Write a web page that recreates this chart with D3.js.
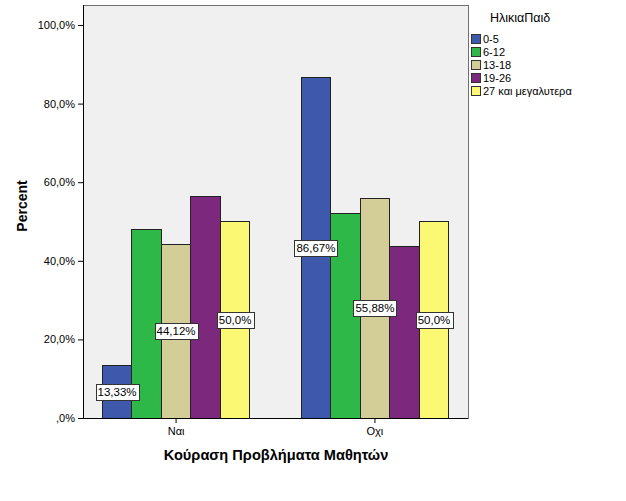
<!DOCTYPE html>
<html><head><meta charset="utf-8">
<script src="https://cdn.jsdelivr.net/npm/d3@7"></script>
<style>body{margin:0;background:#fff}svg{display:block}text{font-family:"Liberation Sans",Arial,sans-serif}</style>
</head><body>
<svg id="c" width="626" height="501"></svg>
<script>
const categories = ["Ναι", "Οχι"];
const series = ["0-5", "6-12", "13-18", "19-26", "27 και μεγαλυτερα"];
const values = {
  "0-5": [13.33, 86.67],
  "6-12": [47.92, 52.08],
  "13-18": [44.12, 55.88],
  "19-26": [56.25, 43.75],
  "27 και μεγαλυτερα": [50.0, 50.0]
};
const labelled = {"0-5": ["13,33%", "86,67%"], "13-18": ["44,12%", "55,88%"], "27 και μεγαλυτερα": ["50,0%", "50,0%"]};
const yTicks = [0, 20, 40, 60, 80, 100];
const yTickLabels = [",0%", "20,0%", "40,0%", "60,0%", "80,0%", "100,0%"];
const colors = ["#3E58AC", "#2EB848", "#D3CE97", "#7C287D", "#FBF873"];

const svg = d3.select("#c");
const L = 83, R = 468, T = 5, B = 418;
const y = d3.scaleLinear().domain([0, 100]).range([B, 25]);
const x0 = d3.scaleBand().domain(categories).range([L, R]).paddingInner(0.258).paddingOuter(0.097);
const x1 = d3.scaleBand().domain(series).range([0, x0.bandwidth()]);
const color = d3.scaleOrdinal().domain(series).range(colors);

svg.append("rect").attr("x", L).attr("y", T).attr("width", R - L).attr("height", B - T)
  .attr("fill", "#F0F0F0").attr("stroke", "#707070").attr("stroke-width", 1).attr("shape-rendering", "crispEdges");

const g = svg.append("g");
categories.forEach((c, ci) => {
  series.forEach(s => {
    const v = values[s][ci];
    g.append("rect").attr("x", x0(c) + x1(s)).attr("y", y(v)).attr("width", x1.bandwidth()).attr("height", B - y(v))
      .attr("fill", color(s)).attr("stroke", "#222").attr("stroke-width", 1).attr("shape-rendering", "crispEdges");
  });
});
categories.forEach((c, ci) => {
  series.forEach(s => {
    if (!labelled[s]) return;
    const v = values[s][ci];
    const cx = x0(c) + x1(s) + x1.bandwidth() / 2, cy = (y(v) + B) / 2;
    const t = svg.append("text").attr("x", cx).attr("y", cy + 4).attr("text-anchor", "middle")
      .attr("font-size", 11.5).attr("fill", "#000").text(labelled[s][ci]);
    const bb = t.node().getBBox();
    svg.insert("rect", () => t.node()).attr("x", Math.round(bb.x - 2) + 0.5).attr("y", Math.round(cy - 8) + 0.5)
      .attr("width", Math.round(bb.width + 4)).attr("height", 16).attr("fill", "#fff").attr("stroke", "#333");
  });
});

// y axis
const ya = svg.append("g").attr("transform", `translate(${L},0)`)
  .call(d3.axisLeft(y).tickValues(yTicks).tickSize(5).tickFormat((d, i) => yTickLabels[i]));
ya.select(".domain").remove();
ya.selectAll("line").attr("stroke", "#000");
ya.selectAll("text").attr("font-size", 11).attr("font-family", "Liberation Sans, Arial, sans-serif").attr("fill", "#000");
svg.append("line").attr("x1", L + 0.5).attr("x2", L + 0.5).attr("y1", T).attr("y2", B).attr("stroke", "#000");

// x axis
const xa = svg.append("g").attr("transform", `translate(0,${B})`).call(d3.axisBottom(x0).tickSize(5).tickPadding(4));
xa.select(".domain").remove();
xa.selectAll("line").attr("stroke", "#000");
xa.selectAll("text").attr("font-size", 11).attr("font-family", "Liberation Sans, Arial, sans-serif").attr("fill", "#000");
svg.append("line").attr("x1", L).attr("x2", R).attr("y1", B + 0.5).attr("y2", B + 0.5).attr("stroke", "#000");

svg.append("text").attr("transform", "translate(27,206) rotate(-90)").attr("text-anchor", "middle")
  .attr("font-size", 14).attr("font-weight", "bold").text("Percent");
svg.append("text").attr("x", 276).attr("y", 460).attr("text-anchor", "middle")
  .attr("font-size", 14.6).attr("font-weight", "bold").text("Κούραση Προβλήματα Μαθητών");

// legend
const lg = svg.append("g");
lg.append("text").attr("x", 490).attr("y", 22).attr("font-size", 12.5).text("ΗλικιαΠαιδ");
series.forEach((s, i) => {
  const yy = 34 + i * 13;
  lg.append("rect").attr("x", 471.5).attr("y", yy + 0.5).attr("width", 9).attr("height", 9)
    .attr("fill", color(s)).attr("stroke", "#333");
  lg.append("text").attr("x", 483).attr("y", yy + 9).attr("font-size", 11).text(s);
});
</script>
</body></html>
